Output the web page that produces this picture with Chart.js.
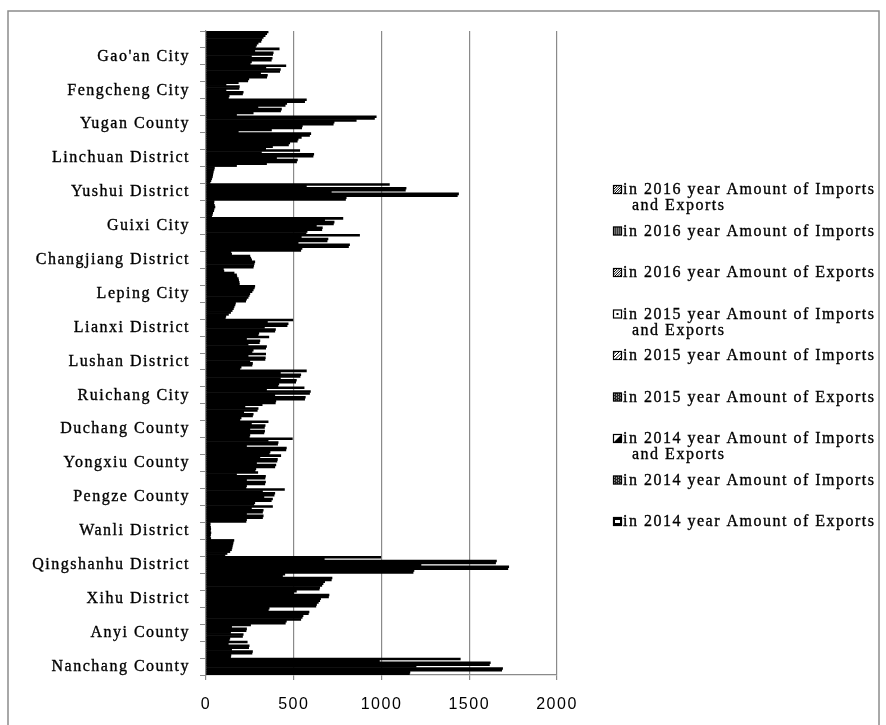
<!DOCTYPE html>
<html>
<head>
<meta charset="utf-8">
<script src="https://cdn.jsdelivr.net/npm/chart.js@4/dist/chart.umd.min.js"></script>
<style>
  html, body { margin: 0; padding: 0; background: #fff; }
  canvas { display: block; }
</style>
</head>
<body>
<canvas id="trade" width="886" height="725"></canvas>
<script>
// Districts and counties, top to bottom; only every other name is printed on the axis
const categories = [
  '', "Gao'an City", '', 'Fengcheng City', '', 'Yugan County', '', 'Linchuan District',
  '', 'Yushui District', '', 'Guixi City', '', 'Changjiang District', '', 'Leping City',
  '', 'Lianxi District', '', 'Lushan District', '', 'Ruichang City', '', 'Duchang County',
  '', 'Yongxiu County', '', 'Pengze County', '', 'Wanli District', '', 'Qingshanhu District',
  '', 'Xihu District', '', 'Anyi County', '', 'Nanchang County'
];

// Trade amounts per district (same order as categories)
const exports2014 = [354, 417, 455, 184, 572, 970, 597, 534, 48, 1045, 46, 780, 875, 142, 99, 278, 168, 495, 358, 340, 572, 559, 320, 354, 492, 426, 295, 447, 379, 24, 159, 996, 449, 515, 360, 254, 235, 1449];
const imports2014 = [346, 278, 341, 114, 562, 960, 590, 316, 46, 572, 44, 676, 543, 146, 102, 275, 165, 350, 231, 240, 424, 345, 222, 259, 354, 307, 174, 322, 259, 23, 155, 674, 436, 500, 355, 146, 127, 988];
const total2014 = [337, 383, 424, 190, 460, 856, 543, 614, 42, 1140, 48, 730, 695, 250, 160, 269, 160, 468, 307, 338, 540, 595, 297, 337, 411, 407, 339, 392, 326, 26, 153, 1655, 718, 701, 587, 231, 246, 1620];
const exports2015 = [326, 380, 420, 188, 451, 730, 525, 610, 40, 1136, 51, 726, 690, 255, 174, 262, 156, 462, 304, 336, 536, 590, 292, 333, 408, 404, 336, 388, 322, 27, 150, 1650, 714, 698, 583, 228, 243, 1615];
const imports2015 = [318, 259, 311, 114, 296, 725, 520, 402, 38, 714, 46, 629, 525, 260, 176, 250, 149, 333, 240, 250, 424, 392, 215, 250, 231, 288, 231, 330, 231, 25, 148, 1225, 676, 653, 553, 140, 146, 1197];
const total2015 = [313, 377, 350, 212, 430, 549, 477, 521, 36, 1439, 44, 663, 818, 278, 184, 246, 140, 396, 345, 265, 515, 566, 269, 334, 458, 398, 339, 379, 326, 28, 145, 1725, 667, 648, 548, 212, 265, 1690];
const exports2016 = [297, 372, 346, 208, 425, 545, 470, 516, 32, 1432, 38, 660, 812, 275, 186, 240, 128, 392, 340, 262, 511, 562, 265, 330, 455, 392, 335, 372, 322, 26, 136, 1720, 660, 640, 540, 208, 262, 1685];
const imports2016 = [288, 259, 244, 132, 269, 373, 379, 345, 28, 799, 36, 576, 547, 272, 189, 231, 113, 301, 269, 200, 415, 398, 200, 250, 365, 284, 231, 278, 231, 24, 120, 1185, 648, 630, 458, 136, 142, 1162];
const total2016 = [282, 252, 238, 128, 174, 184, 340, 174, 23, 795, 32, 570, 540, 269, 190, 226, 110, 297, 262, 193, 410, 395, 193, 247, 360, 280, 228, 273, 228, 27, 108, 1180, 645, 626, 452, 132, 140, 1159];

// Value axis ticks
const valueTicks = [0, 500, 1000, 1500, 2000];

// Series, listed in the order the bars sit inside each group (top first)
const series = [
  { label: 'in 2014 year Amount of Exports', data: exports2014, swatch: 'frame' },
  { label: 'in 2014 year Amount of Imports', data: imports2014, swatch: 'checker' },
  { label: 'in 2014 year Amount of Imports and Exports', data: total2014, swatch: 'half' },
  { label: 'in 2015 year Amount of Exports', data: exports2015, swatch: 'checker' },
  { label: 'in 2015 year Amount of Imports', data: imports2015, swatch: 'lightHatch' },
  { label: 'in 2015 year Amount of Imports and Exports', data: total2015, swatch: 'dot' },
  { label: 'in 2016 year Amount of Exports', data: exports2016, swatch: 'hatch' },
  { label: 'in 2016 year Amount of Imports', data: imports2016, swatch: 'dense' },
  { label: 'in 2016 year Amount of Imports and Exports', data: total2016, swatch: 'hatch' }
];

const GRID = '#8a8a8a';
const SERIF = '"Liberation Serif", "Times New Roman", serif';
const SANS = '"Liberation Sans", Arial, sans-serif';
const TRACKING = '1.5px';

function drawSwatch(ctx, x, y, kind) {
  const s = 9;
  ctx.save();
  ctx.fillStyle = '#fff';
  ctx.fillRect(x, y, s, s);
  ctx.beginPath();
  ctx.rect(x, y, s, s);
  ctx.clip();
  ctx.strokeStyle = '#000';
  ctx.fillStyle = '#000';
  ctx.lineWidth = 1;
  if (kind === 'hatch' || kind === 'lightHatch') {
    const gap = kind === 'hatch' ? 2.5 : 3.5;
    ctx.beginPath();
    for (let d = -s; d < 2 * s; d += gap) {
      ctx.moveTo(x + d, y + s);
      ctx.lineTo(x + d + s, y);
    }
    ctx.stroke();
  } else if (kind === 'dense') {
    ctx.fillStyle = '#3a3a3a';
    ctx.fillRect(x, y, s, s);
    ctx.fillStyle = '#bbb';
    for (let i = 1; i < s; i += 2) for (let j = 1; j < s; j += 2) ctx.fillRect(x + i, y + j, 1, 1);
  } else if (kind === 'checker') {
    ctx.fillStyle = '#222';
    ctx.fillRect(x, y, s, s);
    ctx.fillStyle = '#fff';
    for (let i = 1; i < s; i += 2) for (let j = (i % 4 === 1 ? 1 : 2); j < s; j += 3) ctx.fillRect(x + i, y + j, 1, 1);
  } else if (kind === 'dot') {
    ctx.fillRect(x + 3.5, y + 3.5, 2, 2);
  } else if (kind === 'half') {
    ctx.beginPath();
    ctx.moveTo(x + s, y);
    ctx.lineTo(x + s, y + s);
    ctx.lineTo(x, y + s);
    ctx.closePath();
    ctx.fill();
  } else if (kind === 'frame') {
    ctx.fillRect(x, y, s, s);
    ctx.fillStyle = '#fff';
    ctx.fillRect(x + 2, y + 3, s - 4, s - 6);
  }
  ctx.restore();
  ctx.save();
  ctx.strokeStyle = '#000';
  ctx.lineWidth = 1.2;
  ctx.strokeRect(x + 0.5, y + 0.5, s - 1, s - 1);
  ctx.restore();
}

function wrapWords(ctx, text, maxWidth) {
  const words = text.split(' ');
  const lines = [];
  let line = '';
  for (const w of words) {
    const trial = line ? line + ' ' + w : w;
    if (line && ctx.measureText(trial).width > maxWidth) {
      lines.push(line);
      line = w;
    } else {
      line = trial;
    }
  }
  if (line) lines.push(line);
  return lines;
}

// Wide-tracked lettering for every text on the canvas
const spacing = {
  id: 'spacing',
  beforeLayout(chart) { chart.ctx.letterSpacing = TRACKING; },
  beforeDraw(chart) { chart.ctx.letterSpacing = TRACKING; }
};

// White page with the grey frame around the whole chart
const frame = {
  id: 'frame',
  beforeDraw(chart) {
    const ctx = chart.ctx;
    ctx.save();
    ctx.fillStyle = '#fff';
    ctx.fillRect(0, 0, chart.width, chart.height);
    ctx.strokeStyle = '#8c8c8c';
    ctx.lineWidth = 1.5;
    ctx.strokeRect(8, 11, 871, 725);
    ctx.restore();
  }
};

// Legend on the right: newest year first, long names wrapped with a hanging indent
const sideLegend = {
  id: 'sideLegend',
  afterDraw(chart) {
    const ctx = chart.ctx;
    const top = 190, step = 41.5, swatchX = 613, textX = 623, contX = 632;
    ctx.save();
    ctx.letterSpacing = TRACKING;
    ctx.font = '16px ' + SERIF;
    ctx.fillStyle = '#000';
    ctx.strokeStyle = '#000';
    ctx.lineWidth = 0.35;
    ctx.textBaseline = 'middle';
    ctx.textAlign = 'left';
    const order = chart.data.datasets.map((d, i) => i).reverse();
    order.forEach((di, n) => {
      const ds = chart.data.datasets[di];
      const y = top + n * step;
      drawSwatch(ctx, swatchX, y - 5, series[di].swatch);
      const lines = wrapWords(ctx, ds.label, 262);
      lines.forEach((ln, j) => {
        const lx = j ? contX : textX, ly = y + j * 16;
        ctx.fillText(ln, lx, ly);
        ctx.strokeText(ln, lx, ly);
      });
    });
    ctx.restore();
  }
};

Chart.defaults.font.family = SERIF;
Chart.defaults.color = '#000';

new Chart(document.getElementById('trade'), {
  type: 'bar',
  data: {
    labels: categories,
    datasets: series.map(s => ({
      label: s.label,
      data: s.data,
      backgroundColor: '#000',
      borderWidth: 0,
      barPercentage: 1,
      categoryPercentage: 1
    }))
  },
  options: {
    indexAxis: 'y',
    responsive: false,
    animation: false,
    devicePixelRatio: 1,
    layout: { padding: { left: 0, top: 31, right: 329, bottom: 0 } },
    plugins: {
      legend: { display: false },
      tooltip: { enabled: false }
    },
    scales: {
      y: {
        offset: true,
        afterFit(scale) { scale.width = 206; },
        grid: {
          display: true,
          drawOnChartArea: false,
          drawTicks: true,
          tickLength: 6,
          color: GRID,
          lineWidth: 1
        },
        border: { display: true, color: GRID, width: 1.2 },
        ticks: {
          autoSkip: false,
          padding: 10,
          font: { family: SERIF, size: 16 },
          color: '#000',
          textStrokeColor: '#000',
          textStrokeWidth: 0.35
        }
      },
      x: {
        min: valueTicks[0],
        max: valueTicks[valueTicks.length - 1],
        afterFit(scale) { scale.height = 50; },
        afterBuildTicks(scale) { scale.ticks = valueTicks.map(v => ({ value: v })); },
        grid: {
          color: GRID,
          lineWidth: 1.2,
          drawTicks: true,
          tickLength: 5
        },
        border: { display: true, color: GRID, width: 1.2 },
        ticks: {
          padding: 15,
          font: { family: SANS, size: 16 },
          color: '#000',
          callback: v => String(v)
        }
      }
    }
  },
  plugins: [spacing, frame, sideLegend]
});
</script>
</body>
</html>
